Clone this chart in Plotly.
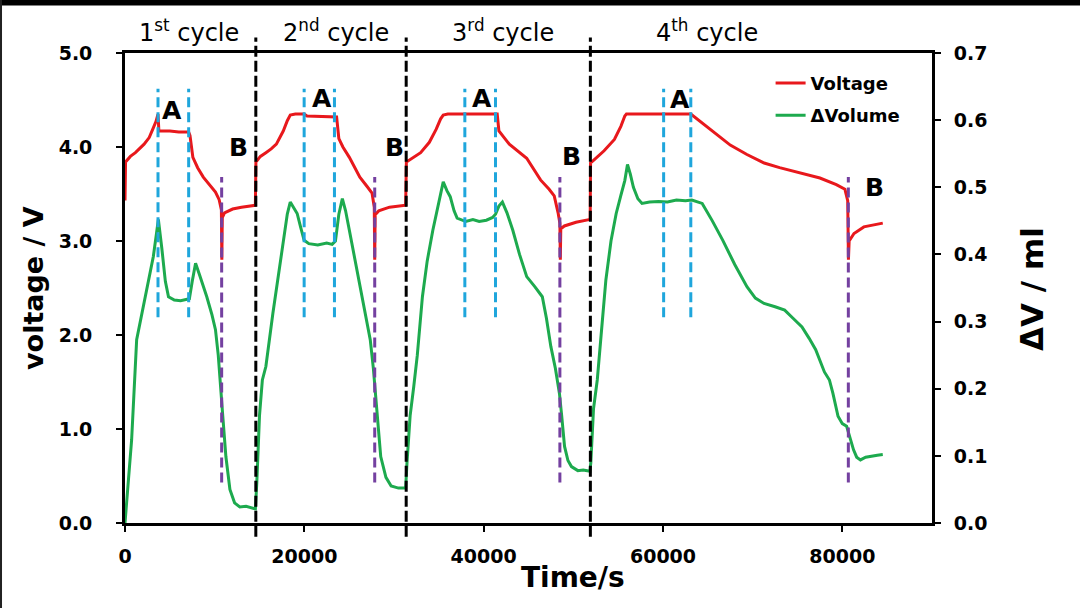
import plotly.graph_objects as go

# ---------------- data ----------------
# Voltage curve: time (s) and voltage (V)
volt_t = [0, 60, 600, 1160, 2130, 2700, 3100, 3450, 3683, 3780, 5000, 6000, 7100, 7250, 7570, 8100, 8730, 9400,
          10090, 10500, 10750, 10800, 10850, 11100, 12000, 12990, 14540,
          14600, 15100, 15710, 16300, 16880, 17650, 18100, 18430, 19000, 19980, 20300, 23600, 23850, 24300, 25020,
          26190, 27000, 27550, 27800, 27850, 27900, 28300, 29500, 31300,
          31380, 32300, 32970, 33940, 34710, 35200, 35490, 36000, 41510, 41700, 42860, 44800, 46340, 47300, 47870,
          48300, 48500, 48550, 48600, 49000, 50300, 51880,
          51920, 52280, 53430, 54580, 55300, 55740, 55920, 63100, 65520, 67500, 69360, 71280, 73000, 75110, 77500,
          79330, 80290, 80600, 80680, 80760, 81300, 82400, 84510]
volt_v = [3.43, 3.84, 3.90, 3.94, 4.03, 4.10, 4.19, 4.27, 4.35, 4.17, 4.17, 4.16, 4.16, 4.12, 3.89, 3.78, 3.68, 3.60,
          3.52, 3.44, 3.33, 2.80, 3.25, 3.30, 3.34, 3.36, 3.38,
          3.84, 3.90, 3.94, 3.98, 4.03, 4.17, 4.28, 4.34, 4.35, 4.35, 4.33, 4.32, 4.09, 4.00, 3.89,
          3.68, 3.58, 3.51, 3.36, 2.80, 3.28, 3.32, 3.36, 3.38,
          3.84, 3.90, 3.94, 4.05, 4.19, 4.30, 4.34, 4.35, 4.35, 4.17, 4.03, 3.88, 3.65, 3.55, 3.48,
          3.30, 3.19, 2.80, 3.13, 3.16, 3.20, 3.23,
          3.83, 3.86, 3.96, 4.08, 4.22, 4.33, 4.35, 4.35, 4.17, 4.02, 3.92, 3.83, 3.78, 3.73, 3.67,
          3.60, 3.55, 3.43, 2.80, 3.00, 3.08, 3.15, 3.19]

# Volume change curve: time (s) and delta volume (ml)
vol_t = [0, 400, 740, 1300, 2050, 2600, 3160, 3500, 3720, 4100, 4500, 4850, 5500, 6200, 6800, 7180, 7500, 7870,
         8300, 9120, 9700, 10090, 10400, 10670, 10900, 11250, 11700, 12220, 12800, 13500, 14100, 14540,
         14700, 15000, 15320, 15710, 16490, 17100, 17650, 18100, 18430, 19200, 19600, 19980, 20500, 21500, 22500,
         23100, 23470, 23850, 24240, 24600, 25020, 26180, 27350, 27700, 27930, 28200, 28520, 29100, 29680, 30500,
         31300,
         31450, 31800, 32200, 32600, 33170, 33700, 34330, 35000, 35490, 35900, 36270, 36700, 37040, 38000, 38800,
         39500, 40300, 41000, 41320, 41700, 42090, 42600, 43250, 44000, 44800, 45700, 46540, 47000, 47490, 48000,
         48450, 48700, 49020, 49400, 49790, 50500, 51100, 51850,
         51950, 52250, 52670, 53100, 53630, 54200, 54780, 55300, 55740, 56040, 56350, 56700, 57200, 57660, 58500,
         59500, 60500, 61500, 62500, 63220, 64370, 65500, 66670, 68000, 69360, 70300, 71270, 72500, 73570, 74500,
         75500, 76300, 77030, 78000, 78560, 78950, 79520, 80000, 80480, 80900, 81250, 81600, 82020, 82600, 83300,
         83900, 84510]
vol_ml = [0.0, 0.07, 0.124, 0.273, 0.322, 0.36, 0.397, 0.43, 0.452, 0.41, 0.36, 0.337, 0.332, 0.331, 0.333, 0.334,
          0.36, 0.387, 0.37, 0.337, 0.31, 0.288, 0.25, 0.194, 0.16, 0.099, 0.05, 0.030, 0.024, 0.025, 0.023, 0.021,
          0.06, 0.16, 0.213, 0.233, 0.312, 0.37, 0.421, 0.46, 0.478, 0.461, 0.44, 0.421, 0.416, 0.414, 0.417,
          0.415, 0.42, 0.46, 0.483, 0.465, 0.436, 0.352, 0.273, 0.23, 0.194, 0.15, 0.099, 0.068, 0.055, 0.052,
          0.052,
          0.09, 0.16, 0.203, 0.25, 0.337, 0.39, 0.436, 0.48, 0.508, 0.495, 0.486, 0.465, 0.454, 0.449, 0.452,
          0.449, 0.451, 0.455, 0.46, 0.472, 0.478, 0.462, 0.436, 0.40, 0.367, 0.352, 0.337, 0.305, 0.263, 0.23,
          0.193, 0.16, 0.114, 0.093, 0.084, 0.078, 0.079, 0.077,
          0.09, 0.17, 0.213, 0.28, 0.362, 0.42, 0.461, 0.488, 0.51, 0.534, 0.52, 0.50, 0.483, 0.476, 0.478,
          0.479, 0.478, 0.481, 0.480, 0.481, 0.476, 0.45, 0.421, 0.385, 0.352, 0.335, 0.327, 0.322, 0.317, 0.305,
          0.292, 0.275, 0.258, 0.225, 0.213, 0.193, 0.159, 0.148, 0.144, 0.125, 0.109, 0.098, 0.094, 0.098, 0.100,
          0.101, 0.102]

x_ticks = [0, 20000, 40000, 60000, 80000]
x_tick_labels = ["0", "20000", "40000", "60000", "80000"]

cycle_bounds = [14590, 31360, 51900]                                  # black dashed separators (s)
a_marks = [3680, 7100, 19980, 23360, 37900, 41320, 60070, 63100]      # cyan dashed lines (s)
b_marks = [10780, 27850, 48500, 80670]                                # purple dashed lines (s)
cycle_labels = ["1<sup>st</sup> cycle", "2<sup>nd</sup> cycle", "3<sup>rd</sup> cycle", "4<sup>th</sup> cycle"]
cycle_label_t = [7140, 23550, 42190, 64960]
a_label_t = [5245, 21990, 39770, 61910]
a_label_v = [4.39, 4.52, 4.52, 4.51]
b_label_t = [12610, 30090, 49780, 83550]
b_label_v = [4.00, 4.00, 3.90, 3.57]

# ---------------- style ----------------
FONT = "DejaVu Sans"
RED = "#E8181C"
GREEN = "#1DAA4E"
CYAN = "#1FA6DC"
PURPLE = "#7440A0"
NBSP = "\u00a0"

fig = go.Figure()
fig.add_trace(go.Scatter(x=volt_t, y=volt_v, mode="lines", name="Voltage",
                         line=dict(color=RED, width=3), legendgroup="v"))
fig.add_trace(go.Scatter(x=vol_t, y=vol_ml, mode="lines", name="ΔVolume", yaxis="y2",
                         line=dict(color=GREEN, width=3), legendgroup="dv"))

shapes = []
for t in a_marks:
    shapes.append(dict(type="line", xref="x", yref="y", x0=t, x1=t, y0=2.19, y1=4.62,
                       line=dict(color=CYAN, width=3, dash="10px,5px")))
for t in b_marks:
    shapes.append(dict(type="line", xref="x", yref="y", x0=t, x1=t, y0=0.43, y1=3.68,
                       line=dict(color=PURPLE, width=3, dash="10px,5px")))
for t in cycle_bounds:
    shapes.append(dict(type="line", xref="x", yref="paper", x0=t, x1=t, y0=-0.029, y1=1.033,
                       line=dict(color="black", width=3, dash="11px,4px")))
# screenshot frame edges (top bar and thin left line)
shapes.append(dict(type="rect", xref="paper", yref="paper", x0=-0.16, x1=1.2, y0=1.101, y1=1.12,
                   line=dict(width=0), fillcolor="black"))
shapes.append(dict(type="rect", xref="paper", yref="paper", x0=-0.16, x1=-0.1524, y0=-0.2, y1=1.12,
                   line=dict(width=0), fillcolor="#222222"))

annotations = []
for t, txt in zip(cycle_label_t, cycle_labels):
    annotations.append(dict(x=t, y=1.046, xref="x", yref="paper", text=txt, showarrow=False,
                            xanchor="center", yanchor="middle",
                            font=dict(family=FONT, size=24, color="black")))
for t, v in zip(a_label_t, a_label_v):
    annotations.append(dict(x=t, y=v, xref="x", yref="y", text="A", showarrow=False,
                            xanchor="center", yanchor="middle",
                            font=dict(family=FONT, size=25, color="black", weight="bold")))
for t, v in zip(b_label_t, b_label_v):
    annotations.append(dict(x=t, y=v, xref="x", yref="y", text="B", showarrow=False,
                            xanchor="center", yanchor="middle",
                            font=dict(family=FONT, size=25, color="black", weight="bold")))
annotations.append(dict(x=-0.114, y=0.5, xref="paper", yref="paper", text="voltage / V", textangle=-90,
                        xanchor="center", yanchor="middle", showarrow=False,
                        font=dict(family=FONT, size=27, color="black", weight="bold")))
annotations.append(dict(x=1.124, y=0.498, xref="paper", yref="paper", text="ΔV / ml", textangle=-90,
                        xanchor="center", yanchor="middle", showarrow=False,
                        font=dict(family=FONT, size=31, color="black", weight="bold")))
annotations.append(dict(x=0.555, y=-0.116, xref="paper", yref="paper", text="Time/s",
                        xanchor="center", yanchor="middle", showarrow=False,
                        font=dict(family=FONT, size=28, color="black", weight="bold")))

tickfont = dict(family=FONT, size=19, color="black", weight="bold")

fig.update_layout(
    width=1080, height=608,
    margin=dict(l=125, r=148, t=53, b=85, autoexpand=False),
    paper_bgcolor="white", plot_bgcolor="white",
    shapes=shapes, annotations=annotations,
    showlegend=True,
    legend=dict(x=0.80, y=0.975, xanchor="left", yanchor="top", bgcolor="rgba(0,0,0,0)",
                font=dict(family=FONT, size=18, color="black", weight="bold"),
                tracegroupgap=6, itemwidth=30),
    xaxis=dict(range=[0, 90000], tickvals=x_ticks, ticktext=x_tick_labels,
               showline=True, linecolor="black", linewidth=3, mirror=True,
               ticks="outside", ticklen=6, tickwidth=1.5, tickcolor="black",
               showgrid=False, zeroline=False, tickfont=tickfont, ticklabelstandoff=8),
    yaxis=dict(range=[0, 5], dtick=1, tickformat=".1f", ticksuffix=NBSP * 3,
               showline=True, linecolor="black", linewidth=3,
               ticks="outside", ticklen=6, tickwidth=1.5, tickcolor="black",
               showgrid=False, zeroline=False, tickfont=tickfont),
    yaxis2=dict(range=[0, 0.7], dtick=0.1, tickformat=".1f", overlaying="y", side="right",
                showline=True, linecolor="black", linewidth=3,
                ticks="outside", ticklen=6, tickwidth=1.5, tickcolor="black",
                showgrid=False, zeroline=False, tickfont=tickfont, ticklabelstandoff=9),
)

fig.write_html("out.html")
